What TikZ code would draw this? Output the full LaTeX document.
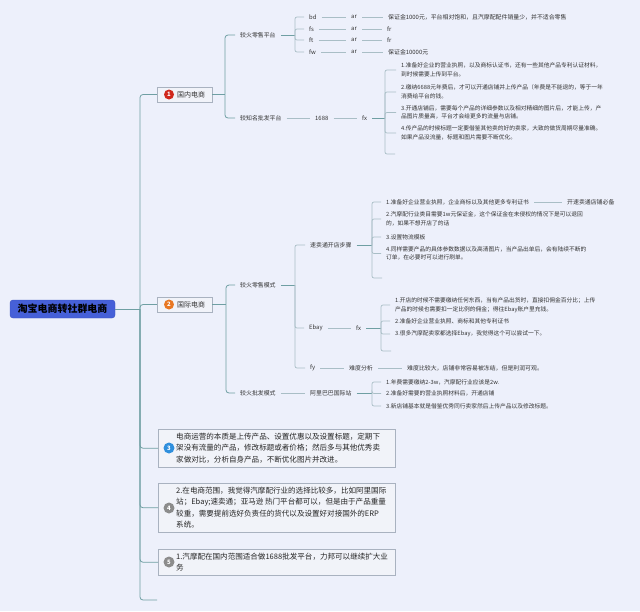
\documentclass[tikz,border=0pt]{standalone}
\usepackage{fontspec}
\setmainfont{Noto Sans CJK SC}
\definecolor{bg}{HTML}{EDF0FB}
\definecolor{brc}{HTML}{6F9FA3}
\definecolor{lfc}{HTML}{A9BEC6}
\definecolor{txt}{HTML}{333333}
\definecolor{boxd}{HTML}{A9B2C0}
\definecolor{boxf}{HTML}{F1F3F9}
\definecolor{rootf}{HTML}{4660D8}
\definecolor{rootd}{HTML}{3A52C0}
\definecolor{red1}{HTML}{D0281C}
\definecolor{org2}{HTML}{E87722}
\definecolor{blu3}{HTML}{2F8FDD}
\definecolor{gry}{HTML}{8C8C8C}
\tikzset{
  lbl/.style={anchor=west, inner xsep=5pt, inner ysep=1pt, text=txt, font=\fontsize{5.9}{7}\selectfont},
  itm/.style={anchor=west, inner xsep=5pt, inner ysep=1pt, text=txt, align=left, font=\fontsize{5.75}{8.6}\selectfont},
  br/.style={draw=brc, line width=0.8pt, rounded corners=3pt},
  lf/.style={draw=lfc, line width=0.7pt, rounded corners=2pt},
  root/.style={fill=rootf, draw=rootd, rounded corners=3pt, minimum width=105pt, minimum height=18pt, inner sep=0pt, text=black, font=\fontsize{10}{12}\selectfont\bfseries},
  cat/.style={fill=boxf, draw=boxd, line width=0.5pt, minimum width=55pt, minimum height=15pt, inner sep=0pt},
  cattxt/.style={anchor=west, inner sep=0pt, text=txt, font=\fontsize{7}{8}\selectfont},
  numc/.style={circle, inner sep=0pt, minimum size=10pt, text=white, font=\fontsize{6}{6}\selectfont\bfseries},
  bigbox/.style={anchor=north west, fill=boxf, draw=boxd, line width=0.5pt, minimum width=237pt, inner sep=0pt},
  boxtxt/.style={anchor=west, inner sep=0pt, text=black!85, align=left, font=\fontsize{7.55}{11.6}\selectfont},
}
\begin{document}
\begin{tikzpicture}[x=1pt,y=-1pt]
\fill[bg] (0,0) rectangle (640,611);
\useasboundingbox (0,0) rectangle (640,611);

% root and trunk
\node[root] (root) at (62.5,309) {淘宝电商转社群电商};
\coordinate (j0) at (140,309);
\draw[br] (root.east) -- (j0);

% level 1 categories
\node[cat] (n1) at (184.5,94.5) {};
\node[numc, fill=red1] (c1) at (169,94.5) {1};
\node[cattxt] (t1) at (177,94.5) {国内电商};
\node[cat] (n2) at (184.5,304.5) {};
\node[numc, fill=org2] (c2) at (169,304.5) {2};
\node[cattxt] (t2) at (177,304.5) {国际电商};

% bottom boxes
\node[bigbox, minimum height=38pt] (bx3) at (158,429) {};
\node[numc, fill=blu3, minimum size=11pt] (c3) at (169,448) {3};
\node[boxtxt] (bt3) at (176,448) {电商运营的本质是上传产品、设置优惠以及设置标题，定期下\\架没有流量的产品，修改标题或者价格；然后多与其他优秀卖\\家做对比，分析自身产品，不断优化图片并改进。};
\node[bigbox, minimum height=49pt] (bx4) at (158,483) {};
\node[numc, fill=gry, minimum size=11pt] (c4) at (169,508) {4};
\node[boxtxt] (bt4) at (176,507.5) {2.在电商范围，我觉得汽摩配行业的选择比较多，比如阿里国际\\站；Ebay;速卖通；亚马逊 热门平台都可以，但是由于产品重量\\较重，需要提前选好负责任的货代以及设置好对接国外的ERP\\系统。};
\node[bigbox, minimum height=26pt] (bx5) at (158,549) {};
\node[numc, fill=gry, minimum size=11pt] (c5) at (169,562) {5};
\node[boxtxt] (bt5) at (176,562) {1.汽摩配在国内范围适合做1688批发平台，力邦可以继续扩大业\\务};
\coordinate (tk0) at (157,600);

\draw[br] (j0) |- (n1.west);
\draw[br] (j0) |- (n2.west);
\draw[br] (j0) |- (bx3.west);
\draw[br] (j0) |- (bx4.west);
\draw[br] (j0) |- (bx5.west);
\draw[br] (j0) |- (tk0);

% ---------- 国内电商 ----------
\node[lbl] (a1) at (235,35) {较火零售平台};
\node[lbl] (a2) at (235,118) {较知名批发平台};
\coordinate (j1) at (225,94.5);
\draw[br] (n1.east) -- (j1);
\draw[br] (j1) |- (a1.west);
\draw[br] (j1) |- (a2.west);

% 较火零售平台
\coordinate (j11) at (295,35);
\draw[br] (a1.east) -- (j11);
\node[lbl] (bd) at (304,17) {bd};
\node[lbl] (fs) at (304,29) {fs};
\node[lbl] (ft) at (304,40) {ft};
\node[lbl] (fw) at (304,52) {fw};
\foreach \n in {bd,fs,ft,fw} \draw[lf] (j11) |- (\n.west);
\node[lbl] (ar1) at (346,17) {ar};
\node[lbl] (ar2) at (346,29) {ar};
\node[lbl] (ar3) at (346,40) {ar};
\node[lbl] (ar4) at (346,52) {ar};
\node[lbl] (r1) at (383,17) {保证金1000元，平台相对饱和，且汽摩配配件销量少，并不适合零售};
\node[lbl] (r2) at (382,29) {fr};
\node[lbl] (r3) at (382,40) {fr};
\node[lbl] (r4) at (383,52) {保证金10000元};
\draw[lf] (bd) -- (ar1); \draw[lf] (ar1) -- (r1);
\draw[lf] (fs) -- (ar2); \draw[lf] (ar2) -- (r2);
\draw[lf] (ft) -- (ar3); \draw[lf] (ar3) -- (r3);
\draw[lf] (fw) -- (ar4); \draw[lf] (ar4) -- (r4);

% 较知名批发平台
\node[lbl] (p1688) at (310,118) {1688};
\node[lbl] (fx1) at (357,118) {fx};
\draw[lf] (a2) -- (p1688);
\draw[lf] (p1688) -- (fx1);
\coordinate (j12) at (385,118);
\draw[br] (fx1.east) -- (j12);
\node[itm] (i1) at (396,70) {1.准备好企业的营业执照，以及商标认证书，还有一些其他产品专利认证材料，\\到时候需要上传到平台。};
\node[itm] (i2) at (396,92) {2.缴纳6688元年费后，才可以开通店铺并上传产品（年费是不能退的，等于一年\\消费给平台的钱。};
\node[itm] (i3) at (396,112.5) {3.开通店铺后，需要每个产品的详细参数以及相对精细的图片后，才能上传，产\\品图片质量高，平台才会给更多的流量与店铺。};
\node[itm] (i4) at (396,133) {4.传产品的时候标题一定要借鉴其他卖的好的卖家，大致的做货周期尽量准确。\\如果产品没流量，标题和图片需要不断优化。};
\coordinate (tk1) at (395,154);
\foreach \n in {i1,i2,i3,i4,tk1} \draw[lf] (j12) |- (\n);

% ---------- 国际电商 ----------
\node[lbl] (a3) at (235,285) {较火零售模式};
\node[lbl] (a4) at (235,393) {较火批发模式};
\coordinate (j2) at (226,304.5);
\draw[br] (n2.east) -- (j2);
\draw[br] (j2) |- (a3.west);
\draw[br] (j2) |- (a4.west);

% 较火零售模式
\coordinate (j21) at (295,285);
\draw[br] (a3.east) -- (j21);
\node[lbl] (smt) at (305,245) {速卖通开店步骤};
\node[lbl] (ebay) at (304,328) {Ebay};
\node[lbl] (fy) at (305,368) {fy};
\draw[lf] (j21) |- (smt.west);
\draw[lf] (j21) |- (ebay.west);
\draw[lf] (j21) |- (fy.west);

% 速卖通
\coordinate (j22) at (372,245);
\draw[br] (smt.east) -- (j22);
\node[itm] (s1) at (381,202) {1.准备好企业营业执照，企业商标以及其他更多专利证书};
\node[lbl] (s1b) at (562,202) {开速卖通店铺必备};
\draw[lf] (s1) -- (s1b);
\node[itm] (s2) at (381,219) {2.汽摩配行业类目需要1w元保证金，这个保证金在未侵权的情况下是可以退回\\的，如果不想开店了的话};
\node[itm] (s3) at (381,237) {3.设置物流模板};
\node[itm] (s4) at (381,253.5) {4.同样需要产品的具体参数数据以及高清图片，当产品出单后，会有陆续不断的\\订单，在必要时可以进行刷单。};
\coordinate (tk2) at (382,278);
\foreach \n in {s1,s2,s3,s4,tk2} \draw[lf] (j22) |- (\n);

% Ebay
\node[lbl] (fx2) at (351,328) {fx};
\draw[lf] (ebay) -- (fx2);
\coordinate (j23) at (381,328);
\draw[br] (fx2.east) -- (j23);
\node[itm] (e1) at (390,305) {1.开店的时候不需要缴纳任何东西，当有产品出货时，直接扣佣金百分比；上传\\产品的时候也需要扣一定比例的佣金；得往Ebay账户里充钱。};
\node[itm] (e2) at (390,321) {2.准备好企业营业执照、商标和其他专利证书};
\node[itm] (e3) at (390,334) {3.很多汽摩配卖家都选择Ebay，我觉得这个可以尝试一下。};
\coordinate (tk3) at (391,351);
\foreach \n in {e1,e2,e3,tk3} \draw[lf] (j23) |- (\n);

% fy
\node[lbl] (nd) at (344,368) {难度分析};
\node[lbl] (ndt) at (402,368) {难度比较大，店铺非常容易被冻结，但是利润可观。};
\draw[lf] (fy) -- (nd);
\draw[lf] (nd) -- (ndt);

% 较火批发模式
\node[lbl] (alb) at (305,393) {阿里巴巴国际站};
\draw[lf] (a4) -- (alb);
\coordinate (j24) at (372,393);
\draw[br] (alb.east) -- (j24);
\node[itm] (al1) at (381,382) {1.年费需要缴纳2-3w，汽摩配行业应该是2w.};
\node[itm] (al2) at (381,393.5) {2.准备好需要的营业执照材料后，开通店铺};
\node[itm] (al3) at (381,406) {3.新店铺基本就是借鉴优秀同行卖家然后上传产品以及修改标题。};
\foreach \n in {al1,al2,al3} \draw[lf] (j24) |- (\n);
\end{tikzpicture}
\end{document}
